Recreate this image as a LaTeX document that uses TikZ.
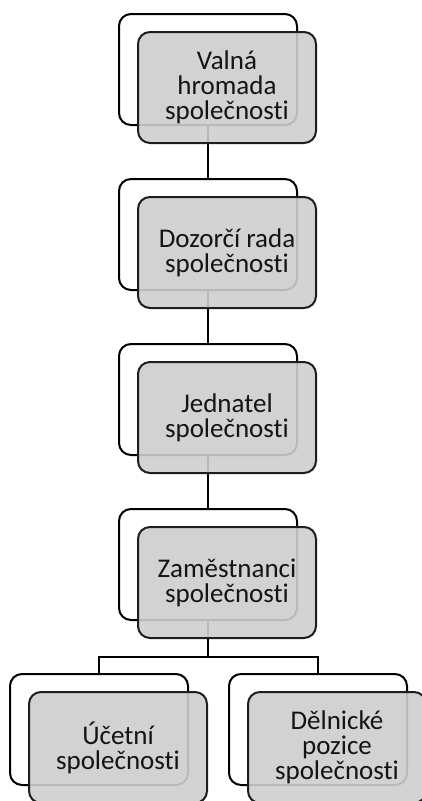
\documentclass[tikz,border=0pt]{standalone}
\usepackage{fontspec}
\setmainfont{Carlito}[Ligatures=NoCommon]
\definecolor{cardgray}{RGB}{206,206,206}
\definecolor{cardline}{RGB}{30,30,30}
\definecolor{cardtext}{RGB}{20,20,20}

\begin{document}
\begin{tikzpicture}[x=1pt,y=-1pt,
  frame/.style={draw=black,line width=2pt,fill=white,rounded corners=12pt,
    minimum width=178pt,minimum height=111pt,inner sep=0pt},
  card/.style={draw=cardline,line width=2pt,fill=cardgray,fill opacity=0.9,
    text opacity=1,rounded corners=12pt,minimum width=178pt,minimum height=111pt,
    inner sep=0pt,align=center,text=cardtext,font=\fontsize{27}{25}\selectfont},
  link/.style={draw=black,line width=2pt}]
\useasboundingbox (0,0) rectangle (422,801);
\clip (0,0) rectangle (422,801);

% white frames behind
\node[frame] (valna_b)  at (208,69.5) {};
\node[frame] (dozor_b)  at (208,234.5) {};
\node[frame] (jedn_b)   at (208,399.5) {};
\node[frame] (zam_b)    at (208,564.5) {};
\node[frame] (ucet_b)   at (99,729.5) {};
\node[frame] (delnik_b) at (318,729.5) {};

% connectors
\coordinate (split) at (208,657);
\draw[link] (valna_b.south) -- (dozor_b.north);
\draw[link] (dozor_b.south) -- (jedn_b.north);
\draw[link] (jedn_b.south) -- (zam_b.north);
\draw[link] (zam_b.south) -- (split) -| (ucet_b.north);
\draw[link] (split) -| (delnik_b.north);

% gray cards on top
\node[card] (valna)  at (227,87.5)  {Valná\\hromada\\společnosti};
\node[card] (dozor)  at (227,252.5) {Dozorčí rada\\společnosti};
\node[card] (jedn)   at (227,417.5) {Jednatel\\společnosti};
\node[card] (zam)    at (227,582.5) {Zaměstnanci\\společnosti};
\node[card] (ucet)   at (118,747.5) {Účetní\\společnosti};
\node[card] (delnik) at (337,747.5) {Dělnické\\pozice\\společnosti};
\end{tikzpicture}
\end{document}
